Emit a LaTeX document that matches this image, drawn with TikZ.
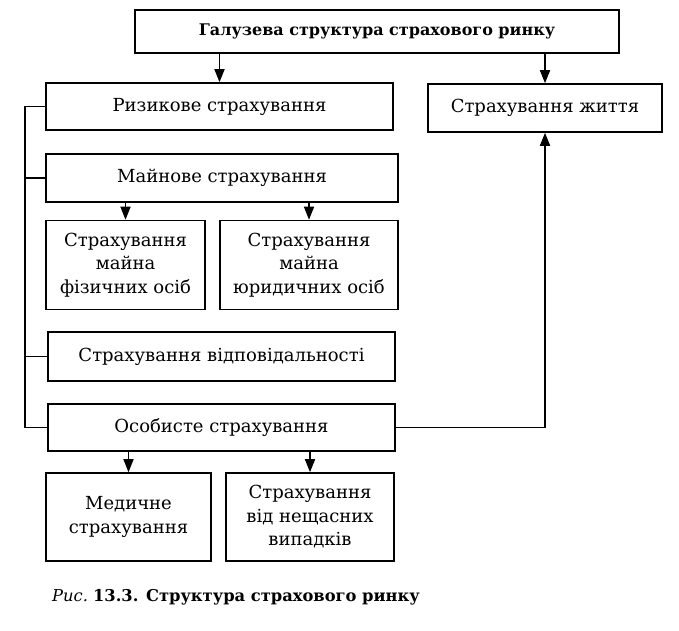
\documentclass[tikz,border=0pt]{standalone}
\usepackage{fontspec}
\setmainfont{DejaVu Serif}
\usetikzlibrary{arrows.meta}

\begin{document}
\begin{tikzpicture}[x=1pt, y=-1pt, line width=1.6pt, >={Triangle[length=13pt,width=10pt]},box/.style={rectangle,draw,inner sep=0pt,align=center,font=\fontsize{18}{23.5}\selectfont}]%
\useasboundingbox (0,0) rectangle (679,630);
\begin{scope}
\node[box,font=\bfseries\fontsize{16}{20}\selectfont,minimum width=484pt,minimum height=43pt] (top) at (377,31.5) {Галузева структура страхового ринку};
\node[box,minimum width=347pt,minimum height=47pt] (risk) at (219.5,106.5) {Ризикове страхування};
\node[box,minimum width=234pt,minimum height=48pt] (life) at (545,108) {Страхування життя};
\node[box,minimum width=352pt,minimum height=48pt] (mayn) at (222,178) {Майнове страхування};
\node[box,minimum width=159pt,minimum height=89pt] (fiz) at (125.5,265) {Страхування\\майна\\фізичних осіб};
\node[box,minimum width=178pt,minimum height=89pt] (yur) at (309,265) {Страхування\\майна\\юридичних осіб};
\node[box,minimum width=347pt,minimum height=49pt] (vidp) at (221.5,356.5) {Страхування відповідальності};
\node[box,minimum width=347pt,minimum height=47pt] (osob) at (221.5,427.5) {Особисте страхування};
\node[box,minimum width=165pt,minimum height=88pt] (med) at (128.5,517) {Медичне\\страхування};
\node[box,minimum width=168pt,minimum height=88pt] (nesch) at (310,517) {Страхування\\від нещасних\\випадків};
\node[font=\fontsize{16.3}{20}\selectfont] (cap) at (236,597) {\textit{Рис.}~\textbf{13.3. Структура страхового ринку}};
\coordinate (bus) at (25,0);
\end{scope}
\begin{scope}
\draw[->] (top.south -| risk.north) -- (risk.north);
\draw[->] (top.south -| life.north) -- (life.north);
\draw[->] (mayn.south -| fiz.north) -- (fiz.north);
\draw[->] (mayn.south -| yur.north) -- (yur.north);
\draw[->] (osob.south -| med.north) -- (med.north);
\draw[->] (osob.south -| nesch.north) -- (nesch.north);
% left bus
\draw (risk.west) -- (risk.west -| bus) -- (bus |- osob.west) -- (osob.west);
\draw (mayn.west -| bus) -- (mayn.west);
\draw (vidp.west -| bus) -- (vidp.west);
\draw[->] (osob.east) -| (life.south);
\end{scope}
\end{tikzpicture}
\end{document}
